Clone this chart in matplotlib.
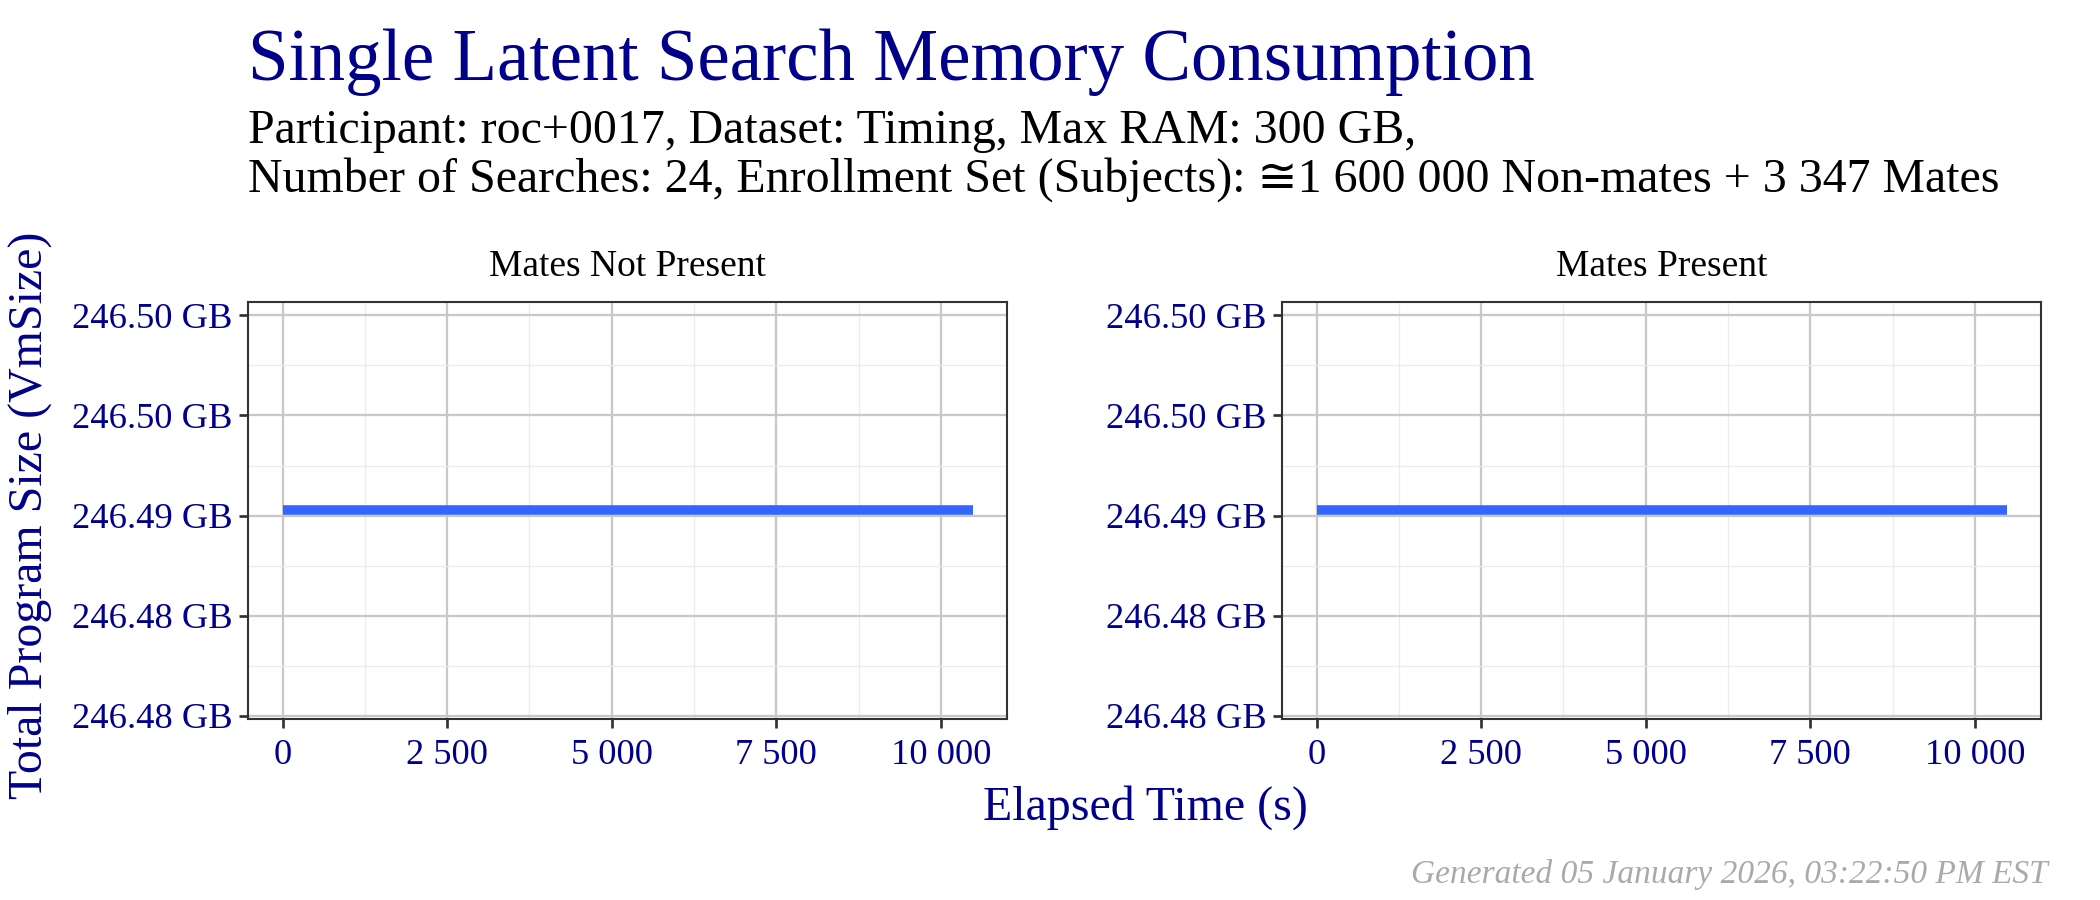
import numpy as np
import matplotlib.pyplot as plt
from matplotlib.ticker import FixedLocator, FixedFormatter, FuncFormatter

plt.rcParams['font.family'] = ['Liberation Serif', 'DejaVu Serif', 'DejaVu Sans']

# data
panels = ["Mates Not Present", "Mates Present"]
elapsed_not_present = [0, 10480]
vmsize_not_present = [246.49026, 246.49026]
elapsed_present = [0, 10480]
vmsize_present = [246.49026, 246.49026]

x_ticks = [0, 2500, 5000, 7500, 10000]
x_minor = [1250, 3750, 6250, 8750]
y_ticks = [246.480, 246.485, 246.490, 246.495, 246.500]
y_labels = ["246.48 GB", "246.48 GB", "246.49 GB", "246.50 GB", "246.50 GB"]
y_minor = [246.4825, 246.4875, 246.4925, 246.4975]

navy = "#00008B"
line_col = "#3366FF"

fig = plt.figure(figsize=(14, 6), dpi=150)

fig.text(248/2100, 1-62/900, "Single Latent Search Memory Consumption",
         color=navy, fontsize=35, va='center', ha='left')
fig.text(248/2100, 1-131/900, "Participant: roc+0017, Dataset: Timing, Max RAM: 300 GB,",
         color='black', fontsize=23, va='center', ha='left')
fig.text(248/2100, 1-180/900,
         "Number of Searches: 24, Enrollment Set (Subjects): \u22451 600 000 Non-mates + 3 347 Mates",
         color='black', fontsize=23, va='center', ha='left')

def xfmt(v, pos):
    return "{:,}".format(int(round(v))).replace(",", " ")

xs = [elapsed_not_present, elapsed_present]
ys = [vmsize_not_present, vmsize_present]
lefts = [248/2100, 1282/2100]
for i in range(2):
    ax = fig.add_axes([lefts[i], 1-719/900, 759/2100, 417/900])
    ax.set_xlim(-524, 11004)
    ax.set_ylim(246.47985, 246.50066)
    ax.xaxis.set_major_locator(FixedLocator(x_ticks))
    ax.xaxis.set_minor_locator(FixedLocator(x_minor))
    ax.yaxis.set_major_locator(FixedLocator(y_ticks))
    ax.yaxis.set_minor_locator(FixedLocator(y_minor))
    ax.xaxis.set_major_formatter(FuncFormatter(xfmt))
    ax.yaxis.set_major_formatter(FixedFormatter(y_labels))
    ax.grid(which='major', color='#c8c8c8', linewidth=1.1)
    ax.grid(which='minor', color='#ebebeb', linewidth=0.6)
    ax.set_axisbelow(True)
    ax.tick_params(which='major', length=4.5, width=1.3, color='#333333',
                   labelsize=17.5, labelcolor=navy)
    ax.tick_params(axis='x', pad=5)
    ax.tick_params(axis='y', pad=3)
    ax.tick_params(which='minor', length=0)
    for s in ax.spines.values():
        s.set_color('#333333')
        s.set_linewidth(1.0)
    ax.plot(xs[i], ys[i], color=line_col, linewidth=4.6, solid_capstyle='butt')
    fig.text(lefts[i] + 759/2100/2, 1-267/900, panels[i], fontsize=18,
             color='black', ha='center', va='center')

fig.text(1145/2100, 1-808/900, "Elapsed Time (s)", color=navy, fontsize=23,
         ha='center', va='center')
fig.text(30/2100, 1-515/900, "Total Program Size (VmSize)", color=navy, fontsize=23,
         ha='center', va='center', rotation=90)
fig.text(2048/2100, 1-875/900, "Generated 05 January 2026, 03:22:50 PM EST",
         color='#aaaaaa', fontsize=16, style='italic', ha='right', va='center')

fig.savefig("out.png", dpi=150)
